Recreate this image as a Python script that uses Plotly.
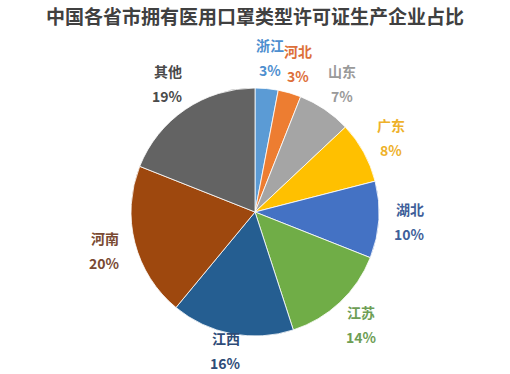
import math
import plotly.graph_objects as go

labels = ["浙江", "河北", "山东", "广东", "湖北", "江苏", "江西", "河南", "其他"]
values = [3, 3, 7, 8, 10, 14, 16, 20, 19]
slice_colors = ["#5b9bd5", "#ed7d31", "#a5a5a5", "#ffc000", "#4472c4",
                "#70ad47", "#255e91", "#9e480e", "#636363"]
text_colors = ["#4e8fcf", "#dd6f3a", "#9a9a9a", "#eeb12a", "#3f5f9a",
               "#6e9e55", "#2e4c78", "#7a4a32", "#4a4a4a"]

W, H = 510, 374
cx, cy, R = 255, 212, 124  # pie centre and radius in pixels
label_dist = 1.25 * R
line_gap = 12.5            # half distance between name line and percent line
font_family = "Noto Sans CJK SC"

fig = go.Figure(go.Pie(
    labels=labels,
    values=values,
    sort=False,
    direction="clockwise",
    rotation=0,
    marker=dict(colors=slice_colors, line=dict(color="white", width=0.8)),
    textinfo="none",
    textposition="none",
    showlegend=False,
    hoverinfo="label+value",
    domain=dict(x=[(cx - R) / W, (cx + R) / W],
                y=[1 - (cy + R) / H, 1 - (cy - R) / H]),
))

total = sum(values)
cum = 0
annotations = []
for lab, val, col in zip(labels, values, text_colors):
    mid = (cum + val / 2) / total * 2 * math.pi
    cum += val
    px = cx + label_dist * math.sin(mid)
    py = cy - label_dist * math.cos(mid)
    py = min(py, H - 11 - line_gap)  # keep label block inside the canvas
    xp, yp = px / W, 1 - py / H
    for txt, shift in ((f"<b>{lab}</b>", line_gap), (f"<b>{val}%</b>", -line_gap)):
        annotations.append(dict(
            x=xp, y=yp, xref="paper", yref="paper", text=txt,
            showarrow=False, xanchor="center", yanchor="middle", yshift=shift,
            font=dict(size=14, color=col, family=font_family),
        ))

fig.update_layout(
    width=W, height=H,
    margin=dict(l=0, r=0, t=0, b=0),
    paper_bgcolor="white",
    plot_bgcolor="white",
    annotations=annotations,
    title=dict(
        text="<b>中国各省市拥有医用口罩类型许可证生产企业占比</b>",
        x=0.5, xanchor="center", y=1 - 17 / H, yanchor="middle",
        yref="container",
        font=dict(size=19, color="#404040", family=font_family),
    ),
)

fig.write_html("out.html", config={"displayModeBar": False},
               post_script="document.body.style.margin='0';")
